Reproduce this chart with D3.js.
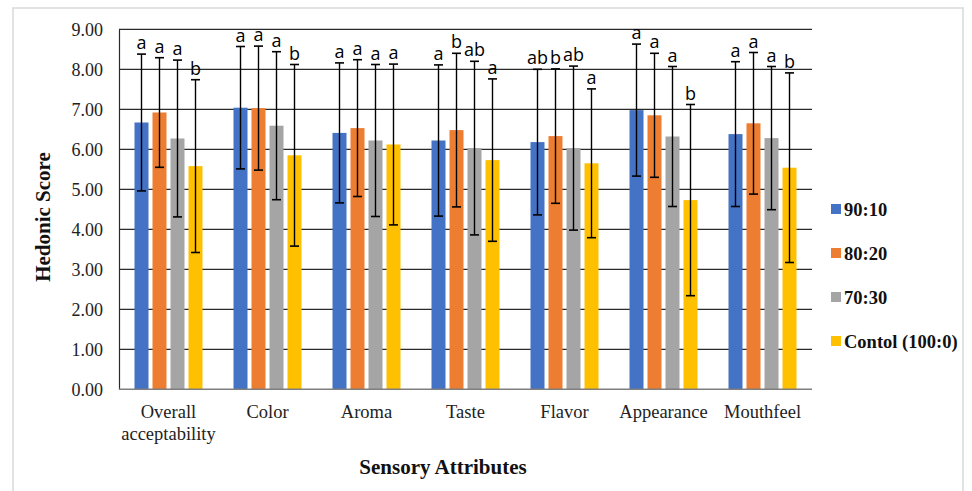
<!DOCTYPE html>
<html>
<head>
<meta charset="utf-8">
<script src="https://cdn.jsdelivr.net/npm/d3@7"></script>
<style>
  html, body { margin: 0; padding: 0; background: #fff; }
  svg { display: block; }
</style>
</head>
<body>
<svg id="chart" width="972" height="491"></svg>
<script>
// ---------- data ----------
const categories = ["Overall acceptability", "Color", "Aroma", "Taste", "Flavor", "Appearance", "Mouthfeel"];
const seriesNames = ["90:10", "80:20", "70:30", "Contol (100:0)"];
const s9010 = [6.67, 7.04, 6.41, 6.22, 6.18, 6.98, 6.38];
const s8020 = [6.92, 7.03, 6.53, 6.48, 6.33, 6.85, 6.65];
const s7030 = [6.27, 6.59, 6.22, 6.03, 6.03, 6.32, 6.28];
const sCtrl = [5.58, 5.85, 6.12, 5.73, 5.65, 4.73, 5.54];
const sd9010 = [1.71, 1.53, 1.75, 1.89, 1.82, 1.65, 1.81];
const sd8020 = [1.37, 1.55, 1.71, 1.92, 1.68, 1.55, 1.77];
const sd7030 = [1.96, 1.85, 1.90, 2.17, 2.05, 1.75, 1.79];
const sdCtrl = [2.16, 2.27, 2.01, 2.03, 1.86, 2.39, 2.37];
const let9010 = ["a", "a", "a", "a", "ab", "a", "a"];
const let8020 = ["a", "a", "a", "b", "b", "a", "a"];
const let7030 = ["a", "a", "a", "ab", "ab", "a", "a"];
const letCtrl = ["b", "b", "a", "a", "a", "b", "b"];
const yTicks = [0, 1, 2, 3, 4, 5, 6, 7, 8, 9];
const colors = ["#4472C4", "#ED7D31", "#A5A5A5", "#FFC000"];

const seriesValues = [s9010, s8020, s7030, sCtrl];
const seriesSD = [sd9010, sd8020, sd7030, sdCtrl];
const seriesLetters = [let9010, let8020, let7030, letCtrl];

// ---------- layout ----------
const svg = d3.select("#chart");
const plot = { left: 119, right: 812, top: 29.3, bottom: 389.3 };

// outer frame
svg.append("rect")
  .attr("x", 13).attr("y", 8).attr("width", 950).attr("height", 492)
  .attr("fill", "none").attr("stroke", "#d9d9d9").attr("stroke-width", 1.5);

const x0 = d3.scaleBand().domain(categories).range([plot.left, plot.right]).padding(0);
const x1 = d3.scaleBand().domain(seriesNames).range([-34, 34]).paddingInner(4 / 18).paddingOuter(0);
const y = d3.scaleLinear().domain([0, 9]).range([plot.bottom, plot.top]);

// gridlines
svg.append("g").selectAll("line").data(yTicks.filter(d => d > 0)).join("line")
  .attr("x1", plot.left).attr("x2", plot.right)
  .attr("y1", d => y(d)).attr("y2", d => y(d))
  .attr("stroke", "#2a2a2a").attr("stroke-width", 1.2);

// y axis
const yAxis = svg.append("g").attr("transform", `translate(${plot.left},0)`)
  .call(d3.axisLeft(y).tickValues(yTicks).tickFormat(d3.format(".2f")).tickSize(0).tickPadding(16));
yAxis.select(".domain").attr("stroke", "#2a2a2a").attr("stroke-width", 1.2);
yAxis.selectAll("text")
  .attr("font-family", "'Liberation Serif', 'Times New Roman', serif")
  .attr("font-size", "18px").attr("fill", "#222");

// bars
const groups = svg.append("g").selectAll("g").data(categories).join("g")
  .attr("transform", d => `translate(${x0(d) + x0.bandwidth() / 2},0)`);

seriesNames.forEach((s, si) => {
  groups.append("rect")
    .attr("x", x1(s))
    .attr("width", x1.bandwidth())
    .attr("y", (d, i) => y(seriesValues[si][i]))
    .attr("height", (d, i) => y(0) - y(seriesValues[si][i]))
    .attr("fill", colors[si]);
});

// x axis baseline
svg.append("line")
  .attr("x1", plot.left).attr("x2", plot.right)
  .attr("y1", y(0)).attr("y2", y(0))
  .attr("stroke", "#7f7f7f").attr("stroke-width", 1.6);

// error bars and letters
seriesNames.forEach((s, si) => {
  const cx = x1(s) + x1.bandwidth() / 2;
  const eb = groups.append("g");
  eb.append("line")
    .attr("x1", cx).attr("x2", cx)
    .attr("y1", (d, i) => y(seriesValues[si][i] + seriesSD[si][i]))
    .attr("y2", (d, i) => y(seriesValues[si][i] - seriesSD[si][i]))
    .attr("stroke", "#000").attr("stroke-width", 1.4);
  eb.append("line")
    .attr("x1", cx - 4.5).attr("x2", cx + 4.5)
    .attr("y1", (d, i) => y(seriesValues[si][i] + seriesSD[si][i]))
    .attr("y2", (d, i) => y(seriesValues[si][i] + seriesSD[si][i]))
    .attr("stroke", "#000").attr("stroke-width", 1.6);
  eb.append("line")
    .attr("x1", cx - 4.5).attr("x2", cx + 4.5)
    .attr("y1", (d, i) => y(seriesValues[si][i] - seriesSD[si][i]))
    .attr("y2", (d, i) => y(seriesValues[si][i] - seriesSD[si][i]))
    .attr("stroke", "#000").attr("stroke-width", 1.6);
  groups.append("text")
    .attr("x", cx)
    .attr("y", (d, i) => y(seriesValues[si][i] + seriesSD[si][i]) - 5)
    .attr("text-anchor", "middle")
    .attr("font-family", "'Open Sans', 'Noto Sans', sans-serif")
    .attr("font-size", "18px").attr("fill", "#000")
    .text((d, i) => seriesLetters[si][i]);
});

// x category labels
const xLab = svg.append("g");
categories.forEach(c => {
  const words = c === "Overall acceptability" ? ["Overall", "acceptability"] : [c];
  const t = xLab.append("text")
    .attr("x", x0(c) + x0.bandwidth() / 2)
    .attr("y", 418)
    .attr("text-anchor", "middle")
    .attr("font-family", "'Liberation Serif', 'Times New Roman', serif")
    .attr("font-size", "18.5px").attr("fill", "#222");
  words.forEach((w, wi) => {
    t.append("tspan").attr("x", x0(c) + x0.bandwidth() / 2).attr("dy", wi === 0 ? 0 : 22).text(w);
  });
});

// axis titles
svg.append("text")
  .attr("x", 443).attr("y", 474)
  .attr("text-anchor", "middle")
  .attr("font-family", "'Liberation Serif', 'Times New Roman', serif")
  .attr("font-weight", "bold").attr("font-size", "21px").attr("fill", "#111")
  .text("Sensory Attributes");

svg.append("text")
  .attr("transform", "translate(50,217) rotate(-90)")
  .attr("text-anchor", "middle")
  .attr("font-family", "'Liberation Serif', 'Times New Roman', serif")
  .attr("font-weight", "bold").attr("font-size", "21px").attr("fill", "#111")
  .text("Hedonic Score");

// legend
const legend = svg.append("g");
seriesNames.forEach((s, si) => {
  const ly = 209 + si * 44;
  legend.append("rect")
    .attr("x", 831).attr("y", ly - 5).attr("width", 10).attr("height", 10)
    .attr("fill", colors[si]);
  legend.append("text")
    .attr("x", 844).attr("y", ly + 6.5)
    .attr("font-family", "'Liberation Serif', 'Times New Roman', serif")
    .attr("font-weight", "bold").attr("font-size", "18.5px").attr("fill", "#111")
    .text(s);
});
</script>
</body>
</html>
